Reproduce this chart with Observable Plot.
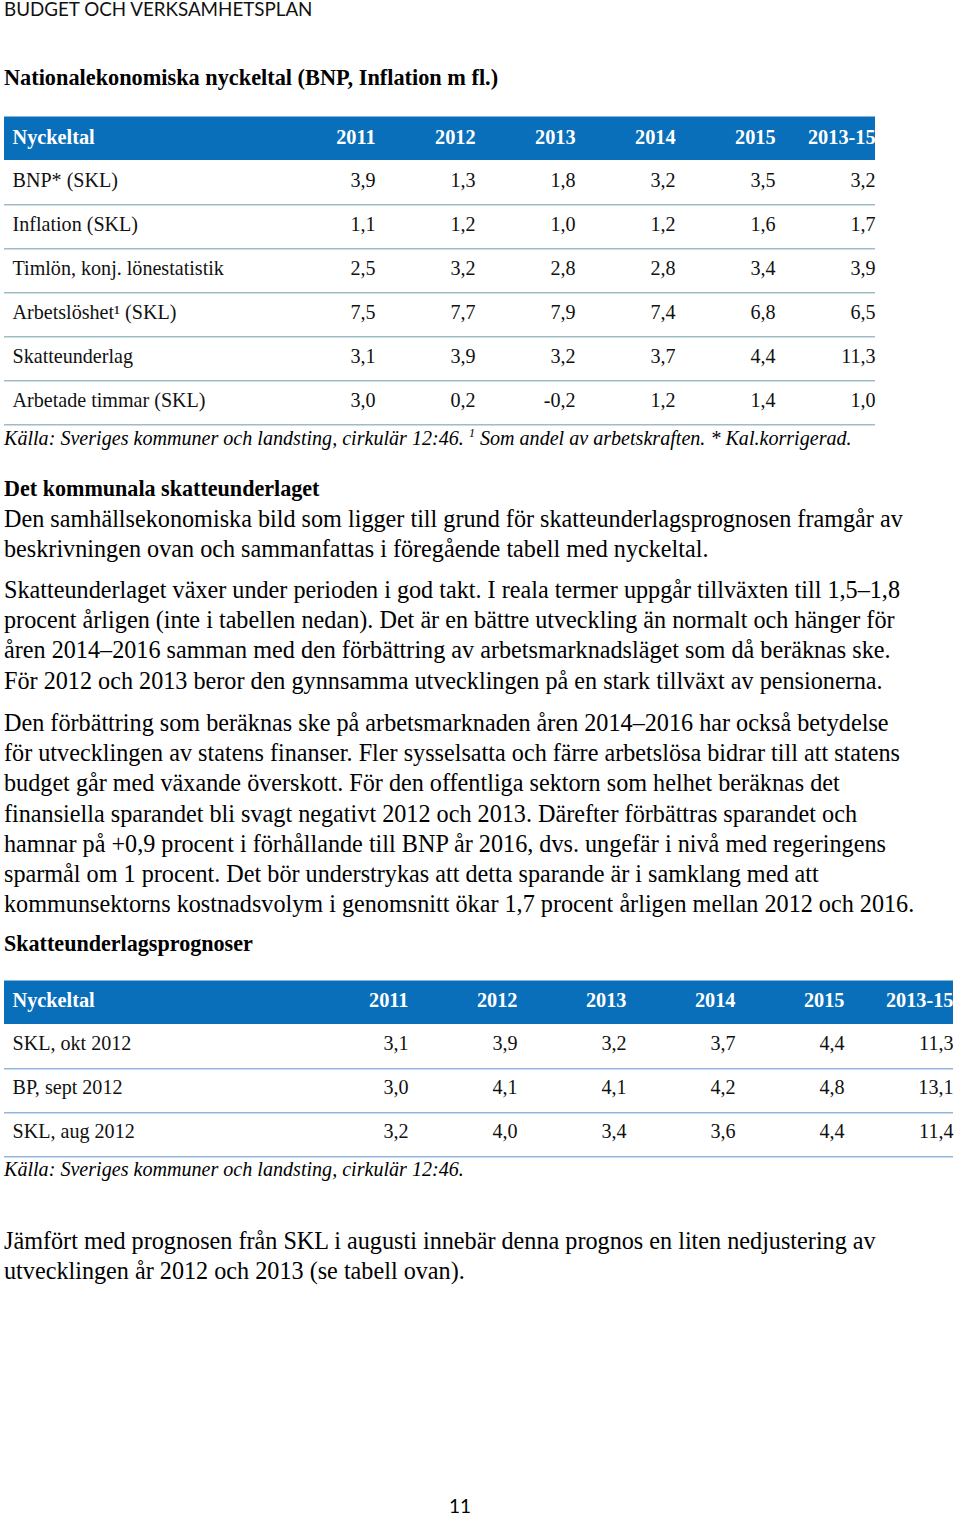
<!DOCTYPE html>
<html><head><meta charset="utf-8">
<script src="https://cdn.jsdelivr.net/npm/d3@7"></script>
<script src="https://cdn.jsdelivr.net/npm/@observablehq/plot@0.6"></script>
<style>
html,body{margin:0;padding:0;background:#fff;}
body{width:960px;height:1516px;position:relative;overflow:hidden;font-family:"Liberation Serif","Times New Roman",serif;color:#000;}
.abs{position:absolute;left:4px;white-space:nowrap;}
.head{font-family:Lato,"Open Sans",sans-serif;font-size:18.8px;line-height:20px;color:#111;}
.title{font-weight:bold;font-size:22.3px;line-height:24px;}
.cap{font-style:italic;font-size:20.1px;line-height:22px;}
.cap sup{font-size:12px;vertical-align:8px;line-height:0;}
.body{font-size:24.2px;line-height:30.2px;}
.body b{font-size:22.1px;}
.pnum{font-family:Lato,"Open Sans",sans-serif;font-size:19px;left:0;width:920px;text-align:center;}
#t1,#t2{position:absolute;left:0;}
</style></head><body>
<div class="abs head" style="top:-1px">BUDGET OCH VERKSAMHETSPLAN</div>
<div class="abs title" style="top:66px">Nationalekonomiska nyckeltal (BNP, Inflation m fl.)</div>
<div id="t1" style="top:100px"></div>
<div class="abs cap" style="top:427px">Källa: Sveriges kommuner och landsting, cirkulär 12:46. <sup>1</sup> Som andel av arbetskraften. * Kal.korrigerad.</div>
<div class="abs body" style="top:473px"><b>Det kommunala skatteunderlaget</b><br>Den samhällsekonomiska bild som ligger till grund för skatteunderlagsprognosen framgår av<br>beskrivningen ovan och sammanfattas i föregående tabell med nyckeltal.</div>
<div class="abs body" style="top:575px">Skatteunderlaget växer under perioden i god takt. I reala termer uppgår tillväxten till 1,5–1,8<br>procent årligen (inte i tabellen nedan). Det är en bättre utveckling än normalt och hänger för<br>åren 2014–2016 samman med den förbättring av arbetsmarknadsläget som då beräknas ske.<br>För 2012 och 2013 beror den gynnsamma utvecklingen på en stark tillväxt av pensionerna.</div>
<div class="abs body" style="top:708px">Den förbättring som beräknas ske på arbetsmarknaden åren 2014–2016 har också betydelse<br>för utvecklingen av statens finanser. Fler sysselsatta och färre arbetslösa bidrar till att statens<br>budget går med växande överskott. För den offentliga sektorn som helhet beräknas det<br>finansiella sparandet bli svagt negativt 2012 och 2013. Därefter förbättras sparandet och<br>hamnar på +0,9 procent i förhållande till BNP år 2016, dvs. ungefär i nivå med regeringens<br>sparmål om 1 procent. Det bör understrykas att detta sparande är i samklang med att<br>kommunsektorns kostnadsvolym i genomsnitt ökar 1,7 procent årligen mellan 2012 och 2016.</div>
<div class="abs body" style="top:928px"><b>Skatteunderlagsprognoser</b></div>
<div id="t2" style="top:960px"></div>
<div class="abs cap" style="top:1158px">Källa: Sveriges kommuner och landsting, cirkulär 12:46.</div>
<div class="abs body" style="top:1226px">Jämfört med prognosen från SKL i augusti innebär denna prognos en liten nedjustering av<br>utvecklingen år 2012 och 2013 (se tabell ovan).</div>
<div class="abs pnum" style="top:1494px">11</div>
<script>
// ---- data ----
const headerLabel = "Nyckeltal";
const years = ["2011", "2012", "2013", "2014", "2015", "2013-15"];
const t1Rows = ["BNP* (SKL)", "Inflation (SKL)", "Timlön, konj. lönestatistik", "Arbetslöshet¹ (SKL)", "Skatteunderlag", "Arbetade timmar (SKL)"];
const t1Values = [
  [3.9, 1.3, 1.8, 3.2, 3.5, 3.2],
  [1.1, 1.2, 1.0, 1.2, 1.6, 1.7],
  [2.5, 3.2, 2.8, 2.8, 3.4, 3.9],
  [7.5, 7.7, 7.9, 7.4, 6.8, 6.5],
  [3.1, 3.9, 3.2, 3.7, 4.4, 11.3],
  [3.0, 0.2, -0.2, 1.2, 1.4, 1.0]
];
const t2Rows = ["SKL, okt 2012", "BP, sept 2012", "SKL, aug 2012"];
const t2Values = [
  [3.1, 3.9, 3.2, 3.7, 4.4, 11.3],
  [3.0, 4.1, 4.1, 4.2, 4.8, 13.1],
  [3.2, 4.0, 3.4, 3.6, 4.4, 11.4]
];

const fmt = v => v.toFixed(1).replace(".", ",");
const BLUE = "#0a6fba";

function makeTable({rows, values, left, labelRight, right, bandTop, rowH, height, lineColor, headDy, rowDy}) {
  const H = "__header";
  const yDomain = [H, ...rows];
  const cells = rows.flatMap((r, i) => years.map((c, j) => ({row: r, col: c, v: values[i][j]})));
  const bw = (right - labelRight) / years.length;
  return Plot.plot({
    width: 960,
    height,
    marginLeft: left,
    marginRight: 960 - right,
    marginTop: 0,
    marginBottom: 0,
    style: {fontFamily: "Liberation Serif, Times New Roman, serif", fontSize: "20px", background: "transparent", overflow: "visible"},
    x: {type: "band", domain: years, range: [labelRight, right], padding: 0, axis: null},
    y: {type: "band", domain: yDomain, range: [bandTop, bandTop + rowH * yDomain.length], padding: 0, axis: null},
    marks: [
      Plot.cell([H], {y: d => d, fill: BLUE, insetTop: 0.5}),
      Plot.ruleX([years[0]], {x: d => d, y: () => H, dx: -bw / 2, stroke: "#ffffff", strokeOpacity: 0.12, insetTop: 0.5}),
      Plot.ruleY(rows, {y: d => d, dy: rowH / 2, stroke: lineColor, strokeWidth: 1.3}),
      Plot.text([headerLabel], {y: () => H, frameAnchor: "left", textAnchor: "start", dx: 8, dy: headDy, text: d => d, fill: "white", fontWeight: "bold", fontSize: 20.3}),
      Plot.text(years, {x: d => d, y: () => H, textAnchor: "end", dx: bw / 2, dy: headDy, text: d => d, fill: "white", fontWeight: "bold", fontSize: 20.3}),
      Plot.text(rows, {y: d => d, frameAnchor: "left", textAnchor: "start", dx: 8, dy: rowDy, text: d => d, fill: "#111", fontSize: 20.1}),
      Plot.text(cells, {x: "col", y: "row", textAnchor: "end", dx: bw / 2, dy: rowDy, text: d => fmt(d.v), fill: "#111", fontSize: 20.1})
    ]
  });
}

document.getElementById("t1").appendChild(makeTable({
  rows: t1Rows, values: t1Values, left: 4, labelRight: 274, right: 875,
  bandTop: 14.5, rowH: 44.5, height: 330, lineColor: "#9dbcc4", headDy: -1, rowDy: -1.5
}));
document.getElementById("t2").appendChild(makeTable({
  rows: t2Rows, values: t2Values, left: 4, labelRight: 299, right: 953,
  bandTop: 19, rowH: 44.5, height: 200, lineColor: "#94b7dd", headDy: -2, rowDy: -2.5
}));
</script>
</body></html>
